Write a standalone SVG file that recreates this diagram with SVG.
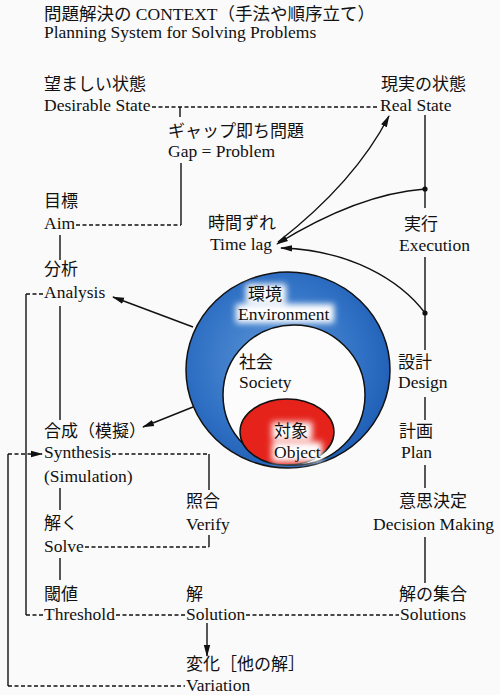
<svg xmlns="http://www.w3.org/2000/svg" width="500" height="695" viewBox="0 0 500 695">
<style>
text{font-family:"Liberation Serif","Noto Sans CJK JP",serif;font-size:17.5px;fill:#111}
.jp{font-size:17px}
.ln{stroke:#111;stroke-width:1.4;fill:none}
.ds{stroke:#111;stroke-width:1.3;fill:none;stroke-dasharray:4 2.5}
</style>
<defs>
<marker id="ah" viewBox="0 0 12 8" refX="11" refY="4" markerWidth="12" markerHeight="8" markerUnits="userSpaceOnUse" orient="auto">
<path d="M0,0.8 L12,4 L0,7.2 Z" fill="#111"/>
</marker>
<radialGradient id="blue" cx="0.45" cy="0.45" r="0.6">
<stop offset="0" stop-color="#5e97d8"/>
<stop offset="0.7" stop-color="#2f70c4"/>
<stop offset="1" stop-color="#1d5cb3"/>
</radialGradient>
<filter id="soft" x="-30%" y="-50%" width="160%" height="200%"><feGaussianBlur stdDeviation="3"/></filter>
</defs>
<rect width="500" height="695" fill="#fafafa"/>

<g id="title">
<text x="44" y="20">問題解決の CONTEXT（手法や順序立て）</text>
<text x="44" y="38">Planning System for Solving Problems</text>
</g>

<g id="circles">
<ellipse cx="288" cy="370" rx="102" ry="98" fill="url(#blue)" stroke="#111" stroke-width="1.5"/>
<g filter="url(#soft)" fill="#fff">
<rect x="246" y="284" width="40" height="19"/>
<rect x="236" y="304" width="98" height="19"/>
</g>
<ellipse cx="294" cy="395" rx="71" ry="70" fill="#fcfcfc" stroke="#111" stroke-width="1.5"/>
<ellipse cx="287" cy="432" rx="47" ry="33" fill="#e5231b" stroke="#111" stroke-width="1.5"/>
<g filter="url(#soft)" fill="#fff">
<rect x="272" y="422" width="40" height="18"/>
<rect x="272" y="442" width="50" height="20"/>
</g>
</g>

<g id="connectors">
<path class="ds" d="M152 107 H379"/>
<path class="ln" d="M180 107 V117"/>
<path class="ds" d="M76 225 H181"/>
<path class="ln" d="M181 163 V225"/>
<path class="ln" d="M60 235 V260 M60 306 V420 M60 488 V510 M60 558 V580"/>
<path class="ds" d="M26 294 H43 M26 615 H43"/>
<path class="ln" d="M26 294 V615"/>
<path class="ds" d="M112 454 H209"/>
<path class="ln" d="M209 454 V490"/>
<path class="ds" d="M8 454 H42" marker-end="url(#ah)"/>
<path class="ln" d="M8 454 V686"/>
<path class="ds" d="M8 686 H185"/>
<path class="ds" d="M85 547 H209"/>
<path class="ln" d="M209 535 V547"/>
<path class="ds" d="M116 615 H185"/>
<path class="ds" d="M246 615 H399"/>
<path class="ln" d="M207 623 V656" marker-end="url(#ah)"/>
<path class="ln" d="M425 115 V208 M425 257 V350 M425 397 V420 M425 465 V488 M425 537 V583"/>
<circle cx="425" cy="189" r="2.6" fill="#111"/>
<circle cx="425" cy="313" r="2.6" fill="#111"/>
<path class="ln" d="M278 242 Q355 182 389 116" marker-end="url(#ah)"/>
<path class="ln" d="M425 189 Q358 194 277 244" marker-end="url(#ah)"/>
<path class="ln" d="M425 313 C400 280 350 250 281 248" marker-end="url(#ah)"/>
<path class="ln" d="M193 327 L113 297" marker-end="url(#ah)"/>
<path class="ln" d="M193 407 L143 427" marker-end="url(#ah)"/>
</g>

<g id="desirable"><text class="jp" x="44" y="90">望ましい状態</text><text x="44" y="111">Desirable State</text></g>
<g id="real"><text class="jp" x="381" y="90">現実の状態</text><text x="380" y="111">Real State</text></g>
<g id="gap"><text class="jp" x="168" y="137">ギャップ即ち問題</text><text x="168" y="157">Gap = Problem</text></g>
<g id="aim"><text class="jp" x="44" y="207">目標</text><text x="44" y="229">Aim</text></g>
<g id="analysis"><text class="jp" x="44" y="275">分析</text><text x="44" y="298">Analysis</text></g>
<g id="timelag"><text class="jp" x="208" y="229">時間ずれ</text><text x="210" y="250">Time lag</text></g>
<g id="execution"><text class="jp" x="404" y="230">実行</text><text x="399" y="251">Execution</text></g>
<g id="environment"><text class="jp" x="248" y="300">環境</text><text x="238" y="320">Environment</text></g>
<g id="society"><text class="jp" x="239" y="368">社会</text><text x="239" y="388">Society</text></g>
<g id="object"><text class="jp" x="274" y="437">対象</text><text x="274" y="458">Object</text></g>
<g id="design"><text class="jp" x="398" y="368">設計</text><text x="398" y="388">Design</text></g>
<g id="plan"><text class="jp" x="399" y="437">計画</text><text x="401" y="458">Plan</text></g>
<g id="synthesis"><text class="jp" x="44" y="437">合成（模擬）</text><text x="44" y="458">Synthesis</text><text x="44" y="482">(Simulation)</text></g>
<g id="verify"><text class="jp" x="186" y="507">照合</text><text x="186" y="530">Verify</text></g>
<g id="decision"><text class="jp" x="399" y="507">意思決定</text><text x="373" y="530">Decision Making</text></g>
<g id="solve"><text class="jp" x="44" y="529">解く</text><text x="44" y="552">Solve</text></g>
<g id="threshold"><text class="jp" x="44" y="600">閾値</text><text x="44" y="620">Threshold</text></g>
<g id="solution"><text class="jp" x="186" y="600">解</text><text x="186" y="620">Solution</text></g>
<g id="solutions"><text class="jp" x="399" y="600">解の集合</text><text x="400" y="620">Solutions</text></g>
<g id="variation"><text class="jp" x="186" y="670">変化［他の解］</text><text x="186" y="691">Variation</text></g>
</svg>
